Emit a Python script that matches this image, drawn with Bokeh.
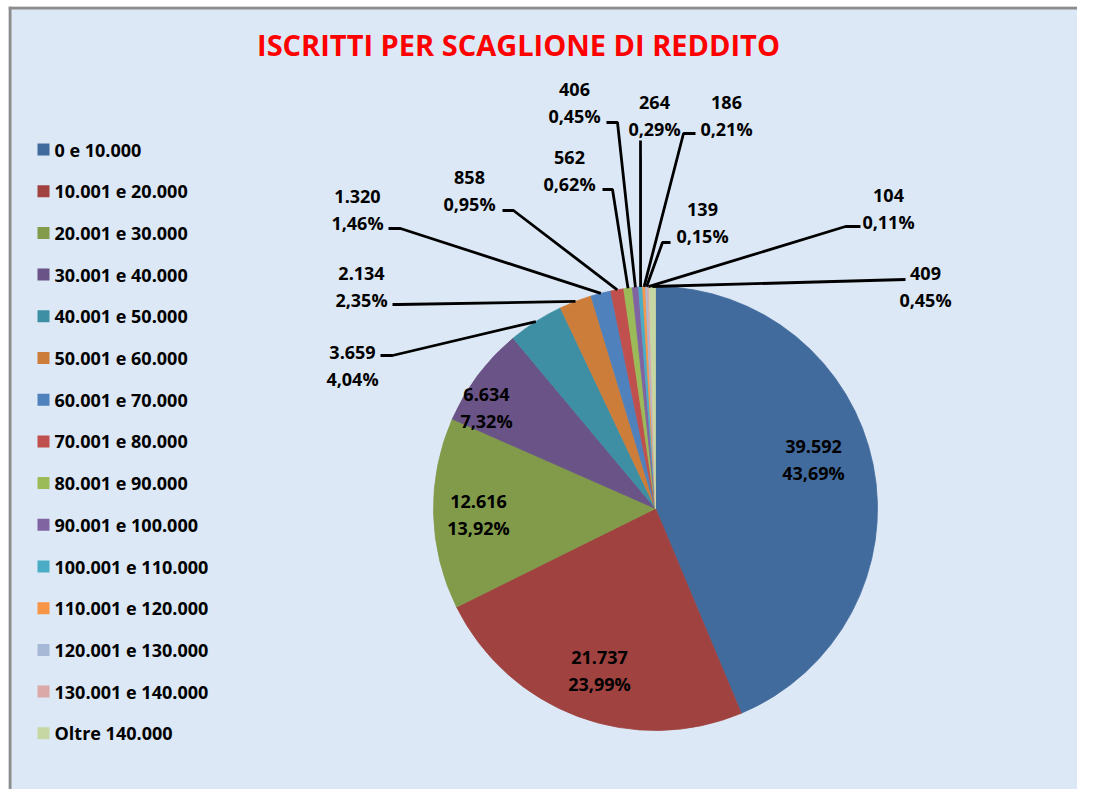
import math
from bokeh.plotting import figure
from bokeh.models import Range1d, ColumnDataSource, Span
from bokeh.core.properties import value
from bokeh.embed import file_html
from bokeh.resources import INLINE

# ---------------- data ----------------
title_text = "ISCRITTI PER SCAGLIONE DI REDDITO"
categories = [
    "0 e 10.000", "10.001 e 20.000", "20.001 e 30.000", "30.001 e 40.000",
    "40.001 e 50.000", "50.001 e 60.000", "60.001 e 70.000", "70.001 e 80.000",
    "80.001 e 90.000", "90.001 e 100.000", "100.001 e 110.000",
    "110.001 e 120.000", "120.001 e 130.000", "130.001 e 140.000", "Oltre 140.000",
]
values = [39592, 21737, 12616, 6634, 3659, 2134, 1320, 858, 562, 406, 264, 186, 139, 104, 409]

# ---------------- styles ----------------
colors = [
    "#426B9D", "#9F4240", "#819B4A", "#6A5386", "#3E8FA4", "#CD7D3A",
    "#4F81BD", "#C0504D", "#9BBB59", "#8064A2", "#4BACC6", "#F79646",
    "#A7B7D6", "#DBA9A8", "#C6D7A4",
]
BG = "#DCE8F5"
FONT = value("Open Sans")

# ---------------- layout (picture pixel coordinates) ----------------
W, H = 1077, 789
FL, FT = 8, 6          # frame left / top offsets (chart border)
CX, CY, R = 655, 508, 222
label_pos = [(813, 459), (599, 670), (478, 514), (486, 407), (352, 365), (361, 286),
             (357, 209), (469, 190), (569, 170), (574, 102), (654, 115), (726, 115),
             (702, 222), (888, 208), (925, 286)]
leader_pts = [None, None, None, None,
              ((392, 355), (380, 355)), ((398, 304), (392, 304)), ((400, 228), (388, 228)),
              ((513, 210), (502, 210)), ((612, 189), (602, 189)), ((617, 122), (606, 122)),
              ((640, 140), (640, 140)), ((683, 133), (695, 133)), ((662, 242), (670, 242)),
              ((845, 226), (860, 226)), ((905, 279), (905, 279))]
legend_x, legend_y0, legend_step = 43, 149, 41.7
title_pos = (518, 44)


def X(sx):
    return sx


def Y(sy):
    return H - sy


total = sum(values)
starts, ends, mids = [], [], []
cum = 0
for v in values:
    a0 = math.pi / 2 - 2 * math.pi * cum / total
    cum += v
    a1 = math.pi / 2 - 2 * math.pi * cum / total
    starts.append(a0)
    ends.append(a1)
    mids.append((a0 + a1) / 2)

num_txt = [f"{v:,}".replace(",", ".") for v in values]
pct_txt = [f"{v / total * 100:.2f}".replace(".", ",") + "%" for v in values]

p = figure(width=W, height=H, output_backend="svg", toolbar_location=None,
           x_range=Range1d(FL, W), y_range=Range1d(0, H - FT),
           min_border_left=FL, min_border_top=FT, min_border_right=0,
           min_border_bottom=0, tools="")
p.axis.visible = False
p.grid.visible = False
p.background_fill_color = BG
p.border_fill_color = "white"
p.outline_line_color = None

# chart border (left and top)
p.add_layout(Span(location=FL + 1.5, dimension="height", line_color="#8C8C8C", line_width=3))
p.add_layout(Span(location=H - FT - 1.5, dimension="width", line_color="#8C8C8C", line_width=3))

# pie
src = ColumnDataSource(dict(start=starts, end=ends, color=colors, cat=categories))
p.wedge(x=X(CX), y=Y(CY), radius=R, start_angle="start", end_angle="end",
        direction="clock", fill_color="color", line_color="color", line_width=0.8,
        source=src)

# leader lines
xs, ys = [], []
for i, lp in enumerate(leader_pts):
    if lp is None:
        continue
    px = CX + R * math.cos(mids[i])
    py = CY - R * math.sin(mids[i])
    (ex, ey), (tx, ty) = lp
    xs.append([X(px), X(ex), X(tx)])
    ys.append([Y(py), Y(ey), Y(ty)])
p.multi_line(xs=xs, ys=ys, line_color="black", line_width=2.8)

# data labels
lx = [X(a) for a, b in label_pos]
p.text(x=lx, y=[Y(b - 13) for a, b in label_pos], text=num_txt,
       text_align="center", text_baseline="middle", text_font=FONT,
       text_font_style="bold", text_font_size="18px", text_color="black")
p.text(x=lx, y=[Y(b + 13) for a, b in label_pos], text=pct_txt,
       text_align="center", text_baseline="middle", text_font=FONT,
       text_font_style="bold", text_font_size="18px", text_color="black")

# legend
ly = [Y(legend_y0 + i * legend_step) for i in range(len(categories))]
p.scatter(x=[X(legend_x)] * len(categories), y=ly, marker="square", size=12,
          fill_color=colors, line_color=None)
p.text(x=[X(legend_x + 11)] * len(categories), y=ly, text=categories,
       text_align="left", text_baseline="middle", text_font=FONT,
       text_font_style="bold", text_font_size="18px", text_color="black")

# title
p.text(x=[X(title_pos[0])], y=[Y(title_pos[1])], text=[title_text],
       text_align="center", text_baseline="middle", text_font=FONT,
       text_font_style="bold", text_font_size="29px", text_color="#FF0000")

open("out.html", "w").write(file_html(p, INLINE))
